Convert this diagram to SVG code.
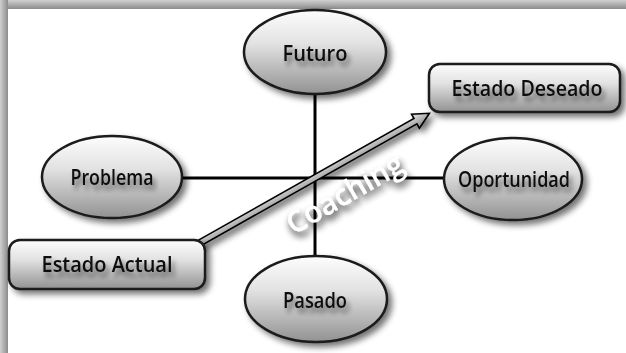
<svg xmlns="http://www.w3.org/2000/svg" width="626" height="353" viewBox="0 0 626 353">
<defs>
<linearGradient id="nodeGrad" x1="0" y1="0" x2="0" y2="1">
<stop offset="0" stop-color="#fdfdfd"/>
<stop offset="0.4" stop-color="#e2e2e2"/>
<stop offset="1" stop-color="#929292"/>
</linearGradient>
<linearGradient id="topBar" x1="0" y1="0" x2="0" y2="1">
<stop offset="0" stop-color="#d0d0d0"/>
<stop offset="1" stop-color="#8c8c8c"/>
</linearGradient>
<linearGradient id="leftBar" x1="0" y1="0" x2="1" y2="0">
<stop offset="0" stop-color="#d0d0d0"/>
<stop offset="1" stop-color="#8c8c8c"/>
</linearGradient>
<linearGradient id="arrowGrad" x1="0" y1="0" x2="0" y2="1">
<stop offset="0" stop-color="#e8e8e8"/>
<stop offset="1" stop-color="#8a8a8a"/>
</linearGradient>
<filter id="shadow" x="-20%" y="-20%" width="150%" height="150%">
<feGaussianBlur in="SourceAlpha" stdDeviation="3"/>
<feOffset dx="4" dy="4" result="b"/>
<feComponentTransfer><feFuncA type="linear" slope="0.55"/></feComponentTransfer>
<feMerge><feMergeNode/><feMergeNode in="SourceGraphic"/></feMerge>
</filter>
<filter id="textShadow" x="-20%" y="-40%" width="140%" height="200%">
<feGaussianBlur in="SourceAlpha" stdDeviation="2.5"/>
<feOffset dx="3" dy="5" result="b"/>
<feComponentTransfer><feFuncA type="linear" slope="0.5"/></feComponentTransfer>
<feMerge><feMergeNode/><feMergeNode in="SourceGraphic"/></feMerge>
</filter>
<filter id="coachShadow" x="-20%" y="-60%" width="140%" height="220%">
<feGaussianBlur in="SourceAlpha" stdDeviation="3.5"/>
<feOffset dx="2" dy="5" result="b"/>
<feComponentTransfer><feFuncA type="linear" slope="0.9"/></feComponentTransfer>
<feMerge><feMergeNode/><feMergeNode in="SourceGraphic"/></feMerge>
</filter>
<style>
.node { fill: url(#nodeGrad); stroke: #1a1a1a; stroke-width: 2.5; }
.label { font-family: "Open Sans", "Liberation Sans", sans-serif; font-weight: 600; font-size: 21px; fill: #111; text-anchor: middle; }
.conn { stroke: #000; stroke-width: 3; fill: none; }
.coach { font-family: "Open Sans", "Liberation Sans", sans-serif; font-weight: 600; font-size: 30px; fill: #ffffff; text-anchor: middle; }
</style>
</defs>

<rect x="0" y="0" width="626" height="353" fill="#ffffff"/>
<rect x="0" y="0" width="626" height="9" fill="url(#topBar)"/>
<rect x="0" y="0" width="8" height="353" fill="url(#leftBar)"/>

<g id="connectors">
<line class="conn" x1="315" y1="94" x2="315" y2="258"/>
<line class="conn" x1="181" y1="178" x2="445" y2="178"/>
</g>

<g id="arrow" filter="url(#shadow)">
<polygon transform="translate(196,245) rotate(-29.43)" points="0,-3 252,-3 252,-8 268,0 252,8 252,3 0,3" fill="url(#arrowGrad)" stroke="#000" stroke-width="1.6" stroke-linejoin="miter"/>
</g>

<g id="coaching" filter="url(#coachShadow)">
<text class="coach" transform="translate(345,194) rotate(-30)" x="0" y="10" textLength="130" lengthAdjust="spacingAndGlyphs">Coaching</text>
</g>

<g id="futuro">
<ellipse class="node" cx="315" cy="52" rx="71" ry="42" filter="url(#shadow)"/>
<text class="label" x="315" y="61" textLength="65" lengthAdjust="spacingAndGlyphs" filter="url(#textShadow)">Futuro</text>
</g>

<g id="pasado">
<ellipse class="node" cx="316" cy="299" rx="71" ry="43" filter="url(#shadow)"/>
<text class="label" x="315" y="308" textLength="64" lengthAdjust="spacingAndGlyphs" filter="url(#textShadow)">Pasado</text>
</g>

<g id="problema">
<ellipse class="node" cx="112" cy="177" rx="70" ry="41" filter="url(#shadow)"/>
<text class="label" x="112" y="185" textLength="83" lengthAdjust="spacingAndGlyphs" filter="url(#textShadow)">Problema</text>
</g>

<g id="oportunidad">
<ellipse class="node" cx="513" cy="179" rx="69" ry="41" filter="url(#shadow)"/>
<text class="label" x="514" y="187" textLength="112" lengthAdjust="spacingAndGlyphs" filter="url(#textShadow)">Oportunidad</text>
</g>

<g id="estado-deseado">
<rect class="node" x="429" y="64" width="191" height="48" rx="11" filter="url(#shadow)"/>
<text class="label" x="527" y="96" textLength="151" lengthAdjust="spacingAndGlyphs" filter="url(#textShadow)">Estado Deseado</text>
</g>

<g id="estado-actual">
<rect class="node" x="9" y="240" width="196" height="49" rx="11" filter="url(#shadow)"/>
<text class="label" x="107" y="272" textLength="131" lengthAdjust="spacingAndGlyphs" filter="url(#textShadow)">Estado Actual</text>
</g>
</svg>
